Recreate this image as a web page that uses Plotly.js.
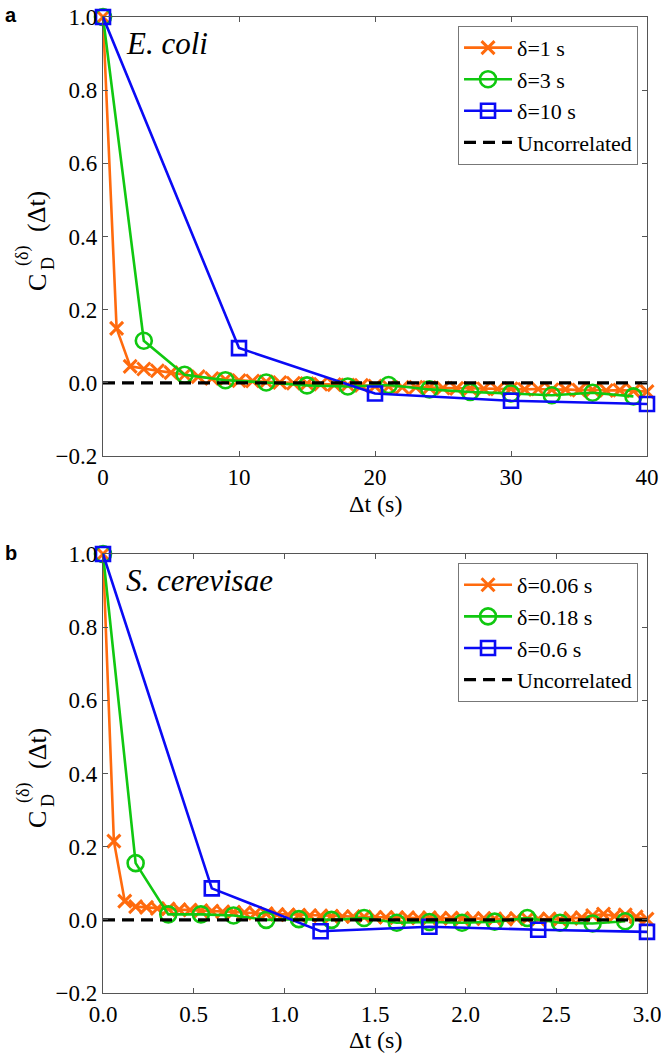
<!DOCTYPE html>
<html>
<head>
<meta charset="utf-8">
<script src="https://cdn.plot.ly/plotly-3.0.1.min.js"></script>
<style>html,body{margin:0;padding:0;background:#fff;} #chart{width:661px;height:1053px;}</style>
</head>
<body>
<div id="chart"></div>
<script>
// ---------- Data: panel a (E. coli) ----------
const ecoliX1 = [0,1,2,3,4,5,6,7,8,9,10,11,12,13,14,15,16,17,18,19,20,21,22,23,24,25,26,27,28,29,30,31,32,33,34,35,36,37,38,39,40];
const ecoliY1 = [1.0,0.149,0.045,0.038,0.033,0.028,0.022,0.017,0.012,0.009,0.006,0.005,0.003,0.001,-0.001,-0.002,-0.004,-0.005,-0.006,-0.007,-0.009,-0.010,-0.012,-0.012,-0.013,-0.014,-0.015,-0.015,-0.016,-0.017,-0.016,-0.018,-0.017,-0.019,-0.018,-0.020,-0.019,-0.021,-0.020,-0.022,-0.024];
const ecoliX3 = [0,3,6,9,12,15,18,21,24,27,30,33,36,39];
const ecoliY3 = [1.0,0.115,0.022,0.007,0.001,-0.007,-0.010,-0.006,-0.018,-0.025,-0.029,-0.034,-0.027,-0.037];
const ecoliX10 = [0,10,20,30,40];
const ecoliY10 = [1.0,0.095,-0.029,-0.049,-0.058];
const ecoliNames = ["δ=1 s","δ=3 s","δ=10 s","Uncorrelated"];

// ---------- Data: panel b (S. cerevisae) ----------
const yeastX1 = [0,0.06,0.12,0.18,0.24,0.30,0.36,0.42,0.48,0.54,0.60,0.66,0.72,0.78,0.84,0.90,0.96,1.02,1.08,1.14,1.20,1.26,1.32,1.38,1.44,1.50,1.56,1.62,1.68,1.74,1.80,1.86,1.92,1.98,2.04,2.10,2.16,2.22,2.28,2.34,2.40,2.46,2.52,2.58,2.64,2.70,2.76,2.82,2.88,2.94,3.00];
const yeastY1 = [1.0,0.215,0.051,0.036,0.034,0.031,0.030,0.028,0.027,0.025,0.024,0.022,0.021,0.020,0.018,0.017,0.015,0.014,0.013,0.012,0.011,0.010,0.009,0.009,0.008,0.007,0.007,0.006,0.006,0.005,0.006,0.004,0.005,0.004,0.003,0.004,0.003,0.002,0.004,0.003,0.002,0.003,0.001,0.004,0.006,0.012,0.016,0.010,0.014,0.008,0.002];
const yeastX3 = [0,0.18,0.36,0.54,0.72,0.90,1.08,1.26,1.44,1.62,1.80,1.98,2.16,2.34,2.52,2.70,2.88];
const yeastY3 = [1.0,0.155,0.015,0.015,0.012,0.0,0.002,0.0,0.005,-0.008,-0.006,-0.008,-0.005,0.005,-0.008,-0.010,-0.004];
const yeastX10 = [0,0.6,1.2,1.8,2.4,3.0];
const yeastY10 = [1.0,0.086,-0.031,-0.019,-0.027,-0.033];
const yeastNames = ["δ=0.06 s","δ=0.18 s","δ=0.6 s","Uncorrelated"];

const yTickVals = [-0.2,0,0.2,0.4,0.6,0.8,1.0];
const xTitle = "Δt (s)";

const ORANGE = "#FF6A0D", GREEN = "#10C810", BLUE = "#0A0AF5";
const SERIF = "Liberation Serif";

function series(x, y, name, color, symbol, size, lw, xa, ya, leg) {
  return {x:x, y:y, name:name, type:"scatter", mode:"lines+markers", xaxis:xa, yaxis:ya, legend:leg, cliponaxis:false,
    line:{color:color, width:2.6},
    marker:{symbol:symbol, size:size, color:color, line:{color:color, width:lw}}};
}
function baseline(xmax, name, xa, ya, leg) {
  return {x:[0,xmax], y:[0,0], name:name, type:"scatter", mode:"lines", xaxis:xa, yaxis:ya, legend:leg,
    line:{color:"#000", width:3.2, dash:"12px,7px"}};
}

const data = [
  series(ecoliX1, ecoliY1, ecoliNames[0], ORANGE, "x-thin-open", 13, 3, "x", "y", "legend"),
  series(ecoliX3, ecoliY3, ecoliNames[1], GREEN, "circle-open", 16, 2.6, "x", "y", "legend"),
  series(ecoliX10, ecoliY10, ecoliNames[2], BLUE, "square-open", 14, 2.6, "x", "y", "legend"),
  baseline(40, ecoliNames[3], "x", "y", "legend"),
  series(yeastX1, yeastY1, yeastNames[0], ORANGE, "x-thin-open", 13, 3, "x2", "y2", "legend2"),
  series(yeastX3, yeastY3, yeastNames[1], GREEN, "circle-open", 16, 2.6, "x2", "y2", "legend2"),
  series(yeastX10, yeastY10, yeastNames[2], BLUE, "square-open", 14, 2.6, "x2", "y2", "legend2"),
  baseline(3, yeastNames[3], "x2", "y2", "legend2")
];

const axisCommon = {showgrid:false, zeroline:false, showline:true, linecolor:"#555", linewidth:1.2,
  mirror:"ticks", ticks:"inside", ticklen:5, tickcolor:"#555", tickwidth:1, ticklabeloverflow:"allow",
  tickfont:{family:SERIF, size:23, color:"#000"}};

const legendCommon = {font:{family:SERIF, size:22, color:"#000"}, bgcolor:"#fff", bordercolor:"#777", borderwidth:1,
  xanchor:"right", yanchor:"top", tracegroupgap:0, itemwidth:48};

// pixel -> paper helpers (plot area: x 103..647, y 17..993)
const PX = px => (px - 103) / 544;
const PY = py => (993 - py) / 976;

function ylabel(off) {
  const f = {family:SERIF, color:"#000"};
  return [
    {text:"C", x:PX(37), y:PY(283+off), size:26},
    {text:"(δ)", x:PX(23), y:PY(256+off), size:18},
    {text:"D", x:PX(48), y:PY(264+off), size:18},
    {text:"(Δt)", x:PX(37), y:PY(212+off), size:26}
  ].map(o => ({text:o.text, xref:"paper", yref:"paper", x:o.x, y:o.y, xanchor:"center", yanchor:"middle",
      textangle:-90, showarrow:false, font:Object.assign({size:o.size}, f)}));
}
function xlabel(py) {
  return {text:xTitle, xref:"paper", yref:"paper", x:0.5, y:PY(py), xanchor:"center", yanchor:"middle",
    showarrow:false, font:{family:SERIF, size:24, color:"#000"}};
}

const layout = {
  width:661, height:1053, paper_bgcolor:"#fff", plot_bgcolor:"#fff",
  font:{family:SERIF, color:"#000"},
  margin:{l:103, r:14, t:17, b:60},
  showlegend:true,
  xaxis: Object.assign({}, axisCommon, {domain:[0,1], anchor:"y", range:[0,40], tickvals:[0,10,20,30,40]}),
  yaxis: Object.assign({}, axisCommon, {domain:[0.5502,1], anchor:"x", range:[-0.2,1.0], tickvals:yTickVals, tickformat:".1f"}),
  xaxis2: Object.assign({}, axisCommon, {domain:[0,1], anchor:"y2", range:[0,3], tickvals:[0,0.5,1,1.5,2,2.5,3], tickformat:".1f"}),
  yaxis2: Object.assign({}, axisCommon, {domain:[0,0.4498], anchor:"x2", range:[-0.2,1.0], tickvals:yTickVals, tickformat:".1f"}),
  legend: Object.assign({}, legendCommon, {x:0.9835, y:0.991}),
  legend2: Object.assign({}, legendCommon, {x:0.9835, y:0.4406}),
  annotations:[
    {text:"<b>a</b>", xref:"paper", yref:"paper", x:PX(11), y:PY(15), xanchor:"center", yanchor:"middle", showarrow:false,
      font:{family:"Liberation Sans", size:20, color:"#000"}},
    {text:"<b>b</b>", xref:"paper", yref:"paper", x:PX(11), y:PY(553), xanchor:"center", yanchor:"middle", showarrow:false,
      font:{family:"Liberation Sans", size:20, color:"#000"}},
    {text:"<i>E. coli</i>", xref:"paper", yref:"paper", x:PX(124), y:PY(44), xanchor:"left", yanchor:"middle", showarrow:false,
      font:{family:SERIF, size:31, color:"#000"}},
    {text:"<i>S. cerevisae</i>", xref:"paper", yref:"paper", x:PX(124), y:PY(580), xanchor:"left", yanchor:"middle", showarrow:false,
      font:{family:SERIF, size:31, color:"#000"}},
    xlabel(504), xlabel(1040)
  ].concat(ylabel(0), ylabel(537))
};

Plotly.newPlot("chart", data, layout, {displayModeBar:false, staticPlot:true});
</script>
</body>
</html>
